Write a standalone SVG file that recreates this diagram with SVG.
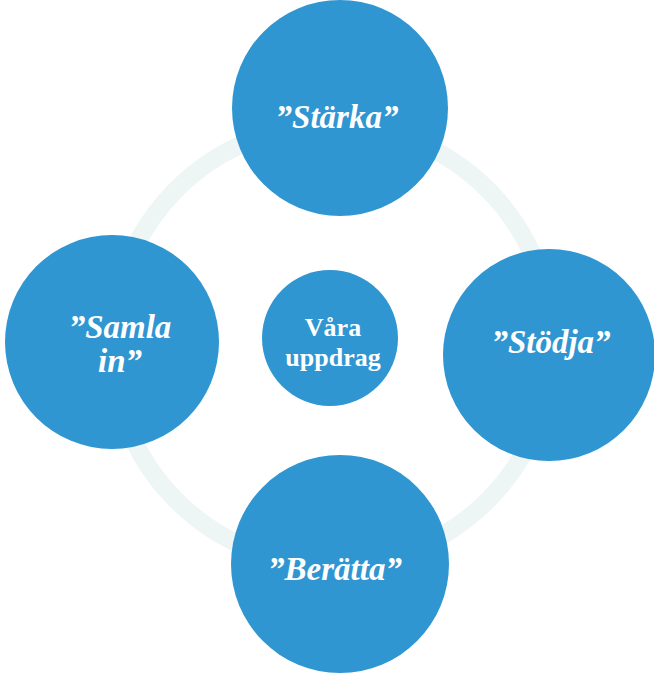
<svg xmlns="http://www.w3.org/2000/svg" width="654" height="674" viewBox="0 0 654 674">
<style>
.node{fill:#2f96d2}
.lbl{fill:#fff;font-family:"Liberation Serif","DejaVu Serif",serif;font-weight:bold;font-style:italic;font-size:33px;text-anchor:middle}
.ctr{fill:#fff;font-family:"Liberation Serif","DejaVu Serif",serif;font-weight:bold;font-size:26px;text-anchor:middle}
.ring{fill:none;stroke:#eef6f5;stroke-width:18}
</style>
<rect width="654" height="674" fill="#fff"/>
<g id="connectors">
<circle class="ring" cx="332" cy="345" r="220"/>
</g>
<g id="starka"><circle class="node" cx="340" cy="108" r="108"/><text class="lbl" x="337" y="128">”Stärka”</text></g>
<g id="samla"><circle class="node" cx="112" cy="342" r="107"/><text class="lbl" x="120" y="338">”Samla</text><text class="lbl" x="120" y="372">in”</text></g>
<g id="stodja"><circle class="node" cx="549" cy="355" r="106"/><text class="lbl" x="551" y="353">”Stödja”</text></g>
<g id="beratta"><circle class="node" cx="340" cy="564" r="109"/><text class="lbl" x="335" y="580">”Berätta”</text></g>
<g id="center"><circle class="node" cx="330" cy="338" r="68"/><text class="ctr" x="333" y="336">Våra</text><text class="ctr" x="333" y="366">uppdrag</text></g>
</svg>
